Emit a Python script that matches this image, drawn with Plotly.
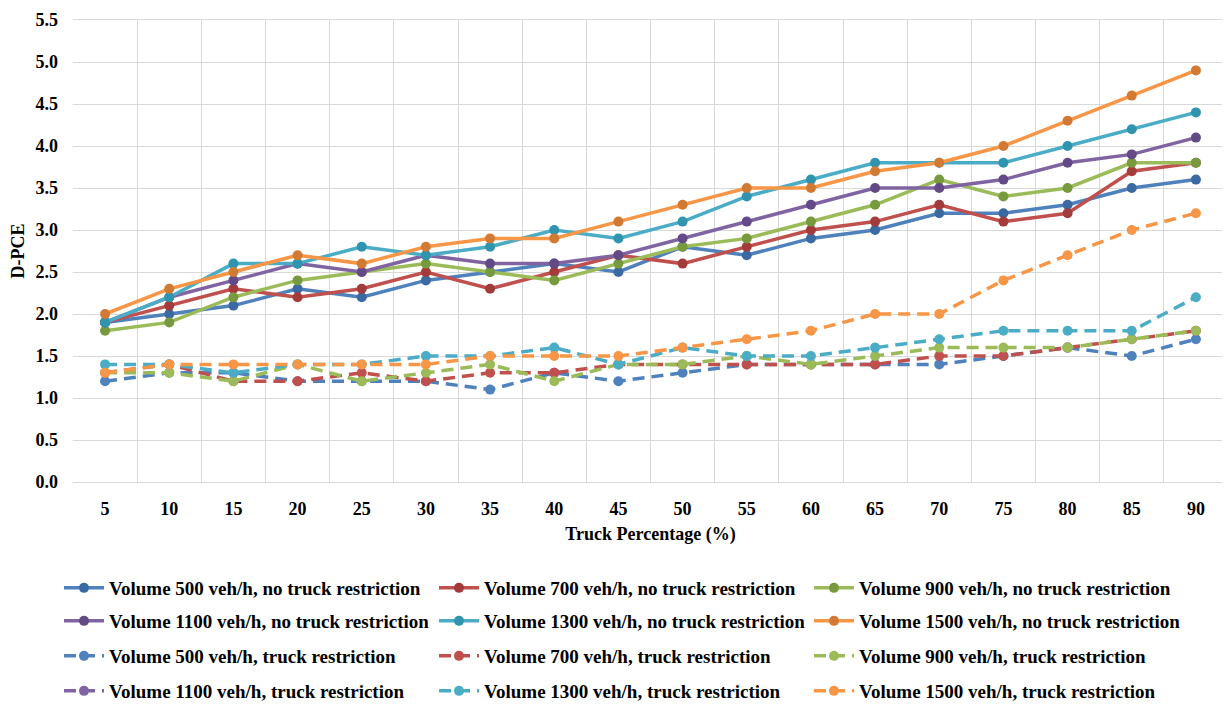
import plotly.graph_objects as go

truck_pct = ['5', '10', '15', '20', '25', '30', '35', '40', '45',
             '50', '55', '60', '65', '70', '75', '80', '85', '90']

# no truck restriction
no_tr_500 = [1.9, 2.0, 2.1, 2.3, 2.2, 2.4, 2.5, 2.6, 2.5, 2.8, 2.7, 2.9, 3.0, 3.2, 3.2, 3.3, 3.5, 3.6]
no_tr_700 = [1.9, 2.1, 2.3, 2.2, 2.3, 2.5, 2.3, 2.5, 2.7, 2.6, 2.8, 3.0, 3.1, 3.3, 3.1, 3.2, 3.7, 3.8]
no_tr_900 = [1.8, 1.9, 2.2, 2.4, 2.5, 2.6, 2.5, 2.4, 2.6, 2.8, 2.9, 3.1, 3.3, 3.6, 3.4, 3.5, 3.8, 3.8]
no_tr_1100 = [1.9, 2.2, 2.4, 2.6, 2.5, 2.7, 2.6, 2.6, 2.7, 2.9, 3.1, 3.3, 3.5, 3.5, 3.6, 3.8, 3.9, 4.1]
no_tr_1300 = [1.9, 2.2, 2.6, 2.6, 2.8, 2.7, 2.8, 3.0, 2.9, 3.1, 3.4, 3.6, 3.8, 3.8, 3.8, 4.0, 4.2, 4.4]
no_tr_1500 = [2.0, 2.3, 2.5, 2.7, 2.6, 2.8, 2.9, 2.9, 3.1, 3.3, 3.5, 3.5, 3.7, 3.8, 4.0, 4.3, 4.6, 4.9]

# truck restriction (1100 veh/h series is not visible in the chart)
tr_500 = [1.2, 1.3, 1.3, 1.2, 1.2, 1.2, 1.1, 1.3, 1.2, 1.3, 1.4, 1.4, 1.4, 1.4, 1.5, 1.6, 1.5, 1.7]
tr_700 = [1.3, 1.4, 1.2, 1.2, 1.3, 1.2, 1.3, 1.3, 1.4, 1.4, 1.4, 1.4, 1.4, 1.5, 1.5, 1.6, 1.7, 1.8]
tr_900 = [1.3, 1.3, 1.2, 1.4, 1.2, 1.3, 1.4, 1.2, 1.4, 1.4, 1.5, 1.4, 1.5, 1.6, 1.6, 1.6, 1.7, 1.8]
tr_1100 = [None] * 18
tr_1300 = [1.4, 1.4, 1.3, 1.4, 1.4, 1.5, 1.5, 1.6, 1.4, 1.6, 1.5, 1.5, 1.6, 1.7, 1.8, 1.8, 1.8, 2.2]
tr_1500 = [1.3, 1.4, 1.4, 1.4, 1.4, 1.4, 1.5, 1.5, 1.5, 1.6, 1.7, 1.8, 2.0, 2.0, 2.4, 2.7, 3.0, 3.2]

volumes = ['500', '700', '900', '1100', '1300', '1500']
line_colors = ['#4F81BD', '#C0504D', '#9BBB59', '#8064A2', '#4BACC6', '#F79646']
marker_dark = ['#3B6AA3', '#A33B3B', '#779A3E', '#634A86', '#3194AE', '#D27A33']

no_tr = [no_tr_500, no_tr_700, no_tr_900, no_tr_1100, no_tr_1300, no_tr_1500]
tr = [tr_500, tr_700, tr_900, tr_1100, tr_1300, tr_1500]

font_main = 'Liberation Serif'
legend_names = ['legend', 'legend2', 'legend3', 'legend4']

fig = go.Figure()

# one legend per row so the row spacing can match the original
for i, (vol, ys, lc, mc) in enumerate(zip(volumes, no_tr, line_colors, marker_dark)):
    fig.add_trace(go.Scatter(
        x=truck_pct, y=ys, mode='lines+markers',
        name=f'Volume {vol} veh/h, no truck restriction',
        line=dict(color=lc, width=3.5),
        marker=dict(color=mc, size=10),
        legend=legend_names[i // 3],
    ))

for i, (vol, ys, lc) in enumerate(zip(volumes, tr, line_colors)):
    fig.add_trace(go.Scatter(
        x=truck_pct, y=ys, mode='lines+markers',
        name=f'Volume {vol} veh/h, truck restriction',
        line=dict(color=lc, width=3.5, dash='12px,7px'),
        marker=dict(color=lc, size=10),
        legend=legend_names[2 + i // 3],
    ))

W, H = 1222, 700
row_y = [580, 613, 648, 683]  # row centres, px from top of figure

legends = {}
for name, ry in zip(legend_names, row_y):
    legends[name] = dict(
        orientation='h', xref='container', yref='container',
        x=51 / W, xanchor='left', y=1 - ry / H, yanchor='middle',
        entrywidth=320, itemwidth=40,
        font=dict(family=font_main, size=19, color='black', weight='bold'),
    )

fig.update_layout(
    width=W, height=H,
    margin=dict(l=65, r=2, t=8, b=226),
    plot_bgcolor='white', paper_bgcolor='white',
    font=dict(family=font_main, size=18, color='black'),
    showlegend=True,
    **legends,
)

fig.update_xaxes(
    type='category', range=[-0.5, 17.5], tickson='boundaries',
    showgrid=True, gridcolor='#D9D9D9', gridwidth=1,
    showline=True, linecolor='#D9D9D9', mirror=True,
    ticks='', ticklabelstandoff=10,
    tickfont=dict(family=font_main, size=18, weight='bold'),
    title=dict(text='Truck Percentage (%)', standoff=9,
               font=dict(family=font_main, size=18, weight='bold')),
)
fig.update_yaxes(
    range=[0, 5.5], dtick=0.5, tickformat='.1f', ticklabeloverflow='allow',
    showgrid=True, gridcolor='#D9D9D9', gridwidth=1, zeroline=False,
    showline=False, ticks='', ticklabelstandoff=14,
    tickfont=dict(family=font_main, size=18, weight='bold'),
    title=dict(text='D-PCE', standoff=6,
               font=dict(family=font_main, size=18, weight='bold')),
)

fig.write_html('out.html')
